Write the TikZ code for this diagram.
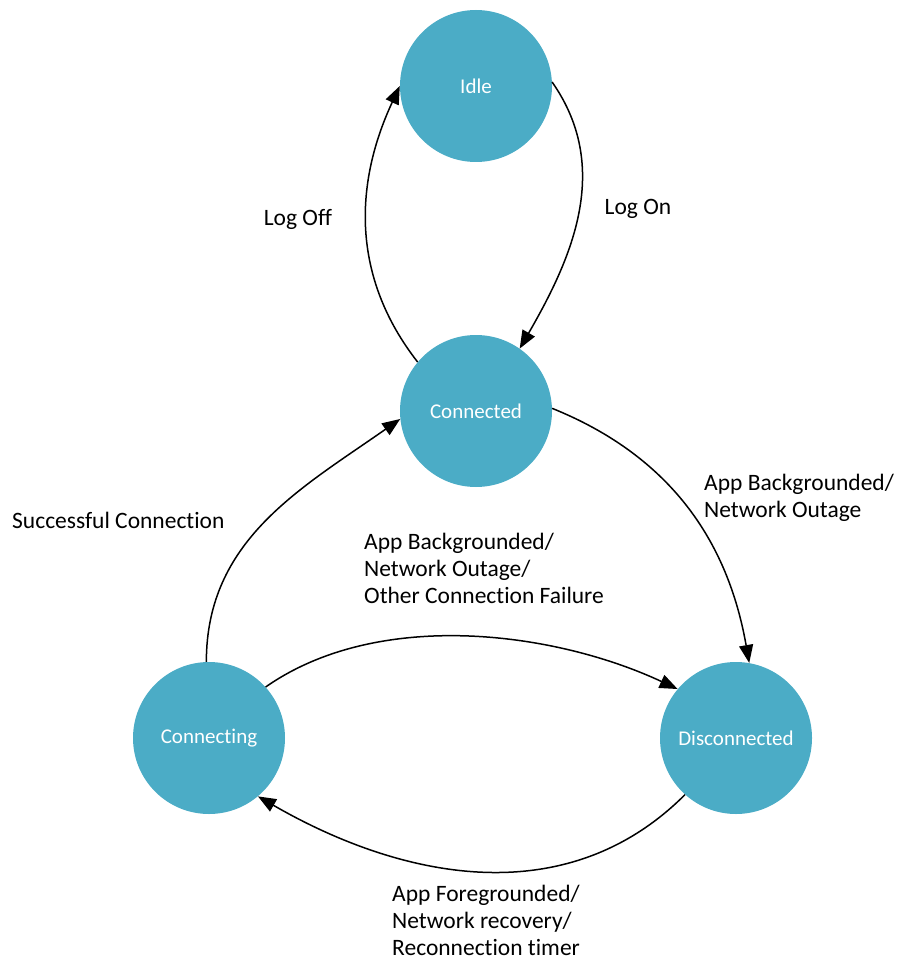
\documentclass[tikz,border=0pt]{standalone}
\usepackage{fontspec}
\setmainfont{Carlito}[RawFeature={-liga}]
\usetikzlibrary{arrows.meta}
\definecolor{statefill}{HTML}{4BACC6}
\tikzset{state/.style={circle,fill=statefill,minimum size=152pt,inner sep=0pt,text=white,
    font=\fontsize{21}{25}\selectfont},
  trans/.style={line width=1.5pt,-{Triangle[length=18pt,width=14pt]}},
  lbl/.style={align=left,inner sep=0pt}}

\begin{document}
\begin{tikzpicture}[x=1pt,y=-1pt,font=\fontsize{23.5}{27}\selectfont]
\useasboundingbox (0,0) rectangle (899,968);
\node[state] (idle) at (476,86) {Idle};
\node[state] (conn) at (476,411) {Connected};
\node[state] (cing) at (209,738) {Connecting};
\node[state] (disc) at (736,738) {Disconnected};
\draw[trans] (idle.3) to[out=-55,in=60] (conn.55);
\draw[trans] (conn.140) to[out=128,in=-115] (idle.180);
\draw[trans] (conn.2) to[out=-22,in=100] (disc.80);
\draw[trans] (cing.92) to[out=90,in=215] (conn.186);
\draw[trans] (cing.42) to[out=35,in=155,looseness=0.85] (disc.140);
\draw[trans] (disc.228) to[out=-135,in=-30] (cing.-50);
\node[lbl] (logoff) at (298,219) {Log Off};
\node[lbl] (logon) at (638,209) {Log On};
\node[lbl,anchor=west] (success) at (12,520) {Successful Connection};
\node[lbl,anchor=north west] (bgout) at (704,474) {App Backgrounded/\\Network Outage};
\node[lbl,anchor=north west] (bgfail) at (364,533) {App Backgrounded/\\Network Outage/\\Other Connection Failure};
\node[lbl,anchor=north west] (fgrec) at (392,885) {App Foregrounded/\\Network recovery/\\Reconnection timer};
\end{tikzpicture}
\end{document}
